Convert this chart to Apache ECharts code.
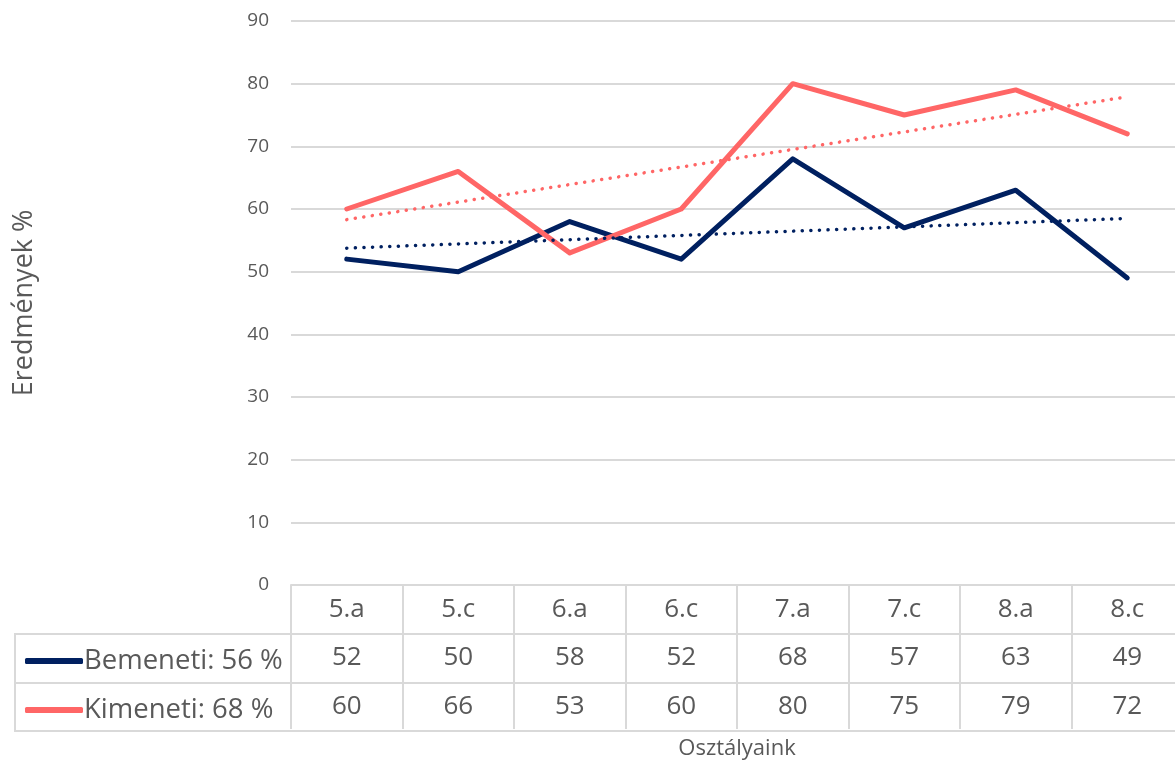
<!DOCTYPE html>
<html>
<head>
<meta charset="utf-8">
<script src="https://cdn.jsdelivr.net/npm/echarts@6/dist/echarts.min.js"></script>
<style>html,body{margin:0;padding:0;background:#fff;overflow:hidden}#c{width:1200px;height:765px}</style>
</head>
<body>
<div id="c"></div>
<script>
const categories = ['5.a','5.c','6.a','6.c','7.a','7.c','8.a','8.c'];
const bemeneti = [52,50,58,52,68,57,63,49];
const kimeneti = [60,66,53,60,80,75,79,72];
const bemenetiTrend = [53.75, 58.5];
const kimenetiTrend = [58.3, 77.9];
const yTicks = [0,10,20,30,40,50,60,70,80,90];
const nameB = 'Bemeneti: 56 %';
const nameK = 'Kimeneti: 68 %';

const FONT = '"Open Sans", sans-serif';
const TXT = '#595959';
const GRID = '#D9D9D9';
const NAVY = '#002060';
const SALMON = '#FF6666';

const chart = echarts.init(document.getElementById('c'));
chart.setOption({
  animation: false,
  textStyle: {fontFamily: FONT},
  grid: {left: 291, top: 21, width: 892, height: 566},
  legend: {
    data: [nameB, nameK],
    orient: 'vertical',
    left: 20, top: 642,
    icon: 'roundRect',
    itemWidth: 58, itemHeight: 6,
    itemGap: 21,
    textStyle: {fontFamily: FONT, fontSize: 27.5, lineHeight: 28, color: TXT, padding: [0,0,0,-4]},
    selectedMode: false
  },
  xAxis: [
    {
      type: 'category', data: categories, boundaryGap: true,
      axisLine: {lineStyle: {color: GRID, width: 2}},
      axisTick: {show: true, interval: 0, length: 144, lineStyle: {color: GRID, width: 2}},
      axisLabel: {fontSize: 26, color: TXT, margin: 12, fontFamily: FONT},
      name: 'Osztályaink', nameLocation: 'middle', nameGap: 153,
      nameTextStyle: {fontSize: 22, color: TXT, fontFamily: FONT}
    },
    {
      type: 'category', data: bemeneti.map(String), boundaryGap: true, position: 'bottom',
      axisLine: {show: false}, axisTick: {show: false},
      axisLabel: {fontSize: 26, color: TXT, margin: 60, fontFamily: FONT}
    },
    {
      type: 'category', data: kimeneti.map(String), boundaryGap: true, position: 'bottom',
      axisLine: {show: false}, axisTick: {show: false},
      axisLabel: {fontSize: 26, color: TXT, margin: 109, fontFamily: FONT}
    }
  ],
  yAxis: {
    type: 'value', min: yTicks[0], max: yTicks[yTicks.length-1], interval: 10,
    axisLine: {show: false}, axisTick: {show: false},
    splitLine: {lineStyle: {color: GRID, width: 2}},
    axisLabel: {fontSize: 19, color: TXT, margin: 22, fontFamily: FONT},
    name: 'Eredmények %', nameLocation: 'middle', nameGap: 253, nameRotate: 90,
    nameTextStyle: {fontSize: 27, color: TXT, fontFamily: FONT}
  },
  graphic: [
    {type: 'rect', shape: {x: 15, y: 634, width: 1200, height: 97}, style: {fill: 'none', stroke: GRID, lineWidth: 2}, silent: true},
    {type: 'line', shape: {x1: 15, y1: 683, x2: 1200, y2: 683}, style: {stroke: GRID, lineWidth: 2}, silent: true}
  ],
  series: [
    {name: nameB, type: 'line', data: bemeneti, symbol: 'none', z: 3,
     lineStyle: {color: NAVY, width: 5, cap: 'round', join: 'round'}, itemStyle: {color: NAVY}},
    {name: nameK, type: 'line', data: kimeneti, symbol: 'none', z: 3,
     lineStyle: {color: SALMON, width: 5, cap: 'round', join: 'round'}, itemStyle: {color: SALMON}},
    {name: 'trendB', type: 'line', symbol: 'none', z: 4,
     data: [[categories[0], bemenetiTrend[0]], [categories[categories.length-1], bemenetiTrend[1]]],
     lineStyle: {color: NAVY, width: 3.5, type: [0.1, 8.5], cap: 'round'}},
    {name: 'trendK', type: 'line', symbol: 'none', z: 4,
     data: [[categories[0], kimenetiTrend[0]], [categories[categories.length-1], kimenetiTrend[1]]],
     lineStyle: {color: SALMON, width: 3.5, type: [0.1, 8.5], cap: 'round'}}
  ]
});
</script>
</body>
</html>
